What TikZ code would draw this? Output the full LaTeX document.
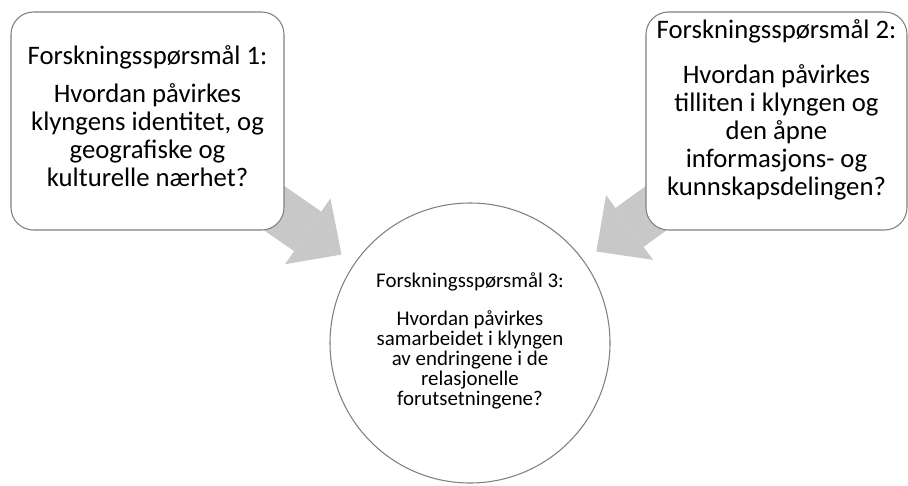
\documentclass[tikz,border=0pt]{standalone}
\usepackage{fontspec}
\setmainfont{Carlito}
\usetikzlibrary{arrows.meta,backgrounds}
\definecolor{Frame}{HTML}{7F7F7F}
\definecolor{ArrowGray}{HTML}{C8C8C8}
\setlength{\lineskiplimit}{-10pt}

\begin{document}
\begin{tikzpicture}[
    qbox/.style={rectangle,rounded corners=0.45cm,draw=Frame,fill=white,line width=0.6pt,minimum width=5.46cm,minimum height=4.36cm,inner sep=0pt},
    qcircle/.style={circle,draw=Frame,fill=white,line width=0.6pt,minimum size=5.6cm,inner sep=0pt},
    qtext/.style={align=center,font=\fontsize{15.2}{15.9}\selectfont,inner sep=0pt},
    ctext/.style={align=center,font=\fontsize{11.9}{11.4}\selectfont,inner sep=0pt},
    bigarrow/.style={draw=ArrowGray,line width=0.96cm,-{Triangle[width=1.6cm,length=0.82cm,line width=0pt]},shorten >=3.12cm}
]
\useasboundingbox (0,0) rectangle (18.16,-9.7);
\node[qbox] (q1) at (2.95,-2.42) {};
\node[qbox,minimum width=5.22cm] (q2) at (15.53,-2.42) {};
\node[qcircle] (q3) at (9.4,-6.86) {};
\begin{scope}[on background layer]
\draw[bigarrow] (q1.center) -- (q3.center);
\draw[bigarrow] (q2.center) -- (q3.center);
\end{scope}
\node[qtext,yshift=0.09cm] (q1text) at (q1) {Forskningsspørsmål 1:\\[0.2cm]Hvordan påvirkes\\klyngens identitet, og\\geografiske og\\kulturelle nærhet?};
\node[qtext,yshift=0.23cm] (q2text) at (q2) {Forskningsspørsmål 2:\\[0.34cm]Hvordan påvirkes\\tilliten i klyngen og\\den åpne\\informasjons- og\\kunnskapsdelingen?};
\node[ctext,yshift=0.04cm] (q3text) at (q3) {Forskningsspørsmål 3:\\[0.37cm]Hvordan påvirkes\\samarbeidet i klyngen\\av endringene i de\\relasjonelle\\forutsetningene?};
\end{tikzpicture}
\end{document}
